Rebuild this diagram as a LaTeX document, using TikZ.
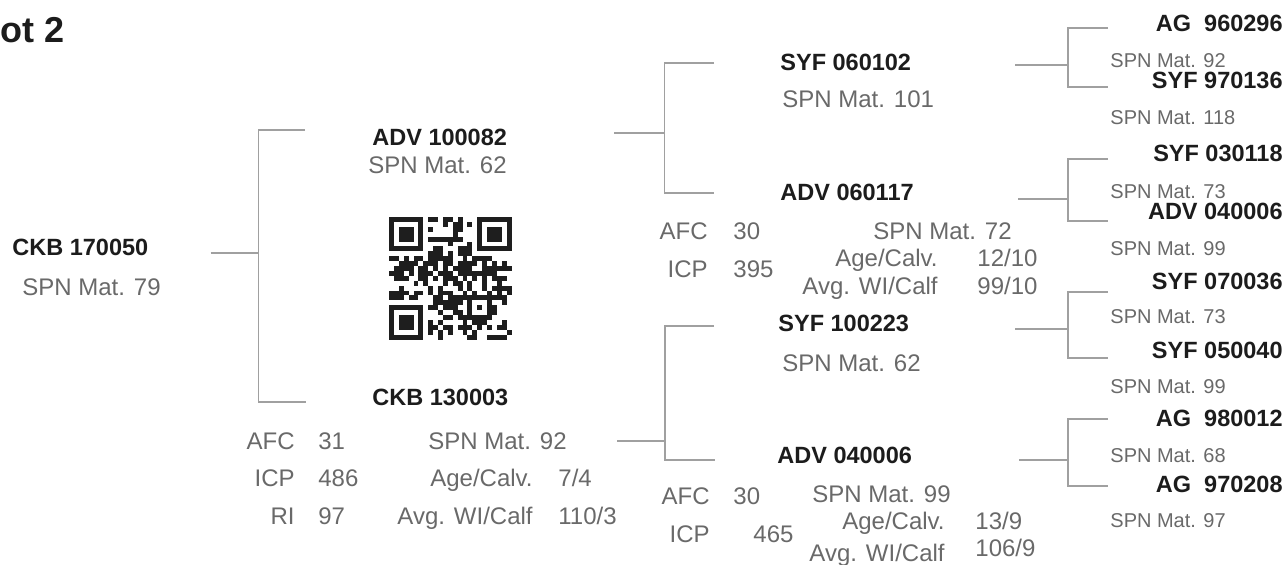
\documentclass[tikz,border=0pt]{standalone}
\usepackage{fontspec}
\setmainfont{Liberation Sans}
\usepackage{xcolor}
\usepackage{tikz}
\usetikzlibrary{calc}

\definecolor{inkdark}{RGB}{28,28,28}
\definecolor{inkgray}{RGB}{105,105,105}
\definecolor{linegray}{RGB}{160,160,160}
\definecolor{qrink}{RGB}{30,30,30}

\begin{document}
\begin{tikzpicture}[
  x=0.5pt, y=-0.5pt,
  tag/.style={font=\fontsize{11.75}{13}\selectfont\bfseries, text=inkdark,
              inner sep=0pt, anchor=base west},
  tagr/.style={tag, anchor=base east},
  spn/.style={font=\fontsize{12}{14}\selectfont, text=inkgray,
              inner sep=0pt, anchor=base west},
  spnr/.style={spn, font=\fontsize{10}{12}\selectfont},
  stt/.style={spn},
  sttr/.style={spn, anchor=base east},
  lnk/.style={draw=linegray, line width=0.8pt},
]
\useasboundingbox (0,0) rectangle (1288,564);

% ---- Title -----------------------------------------------------------------
\node[font=\fontsize{18}{20}\selectfont\bfseries, text=inkdark,
      inner sep=0pt, anchor=base east] (ttl) at (65,42) {ot 2};

% ---- Animal ----------------------------------------------------------------
\node[tag] (ckb1)  at (12,255) {CKB 170050};
\node[spn] (ckb1m) at (22,295) {SPN Mat. 79};

% ---- Sire ------------------------------------------------------------------
\node[tag] (adv1)  at (372,145) {ADV 100082};
\node[spn] (adv1m) at (368,173) {SPN Mat. 62};

% ---- Dam -------------------------------------------------------------------
\node[tag]  (ckb2)     at (372,405) {CKB 130003};
\node[sttr] (ckb2afc)  at (295,449) {AFC};
\node[stt]  (ckb2afcv) at (318,449) {31};
\node[sttr] (ckb2icp)  at (295,486) {ICP};
\node[stt]  (ckb2icpv) at (318,486) {486};
\node[sttr] (ckb2ri)   at (295,524) {RI};
\node[stt]  (ckb2riv)  at (318,524) {97};
\node[spn]  (ckb2m)    at (428,449) {SPN Mat. 92};
\node[sttr] (ckb2age)  at (533,486) {Age/Calv.};
\node[stt]  (ckb2agev) at (558,486) {7/4};
\node[sttr] (ckb2wt)   at (533,524) {Avg. WI/Calf};
\node[stt]  (ckb2wtv)  at (558,524) {110/3};

% ---- Grandparents ----------------------------------------------------------
\node[tag] (syf1)  at (780,70)  {SYF 060102};
\node[spn] (syf1m) at (782,107) {SPN Mat. 101};

\node[tag]  (adv2)     at (780,200) {ADV 060117};
\node[sttr] (adv2afc)  at (708,239) {AFC};
\node[stt]  (adv2afcv) at (733,239) {30};
\node[sttr] (adv2icp)  at (708,277) {ICP};
\node[stt]  (adv2icpv) at (733,277) {395};
\node[spn]  (adv2m)    at (873,239) {SPN Mat. 72};
\node[sttr] (adv2age)  at (938,266) {Age/Calv.};
\node[stt]  (adv2agev) at (977,266) {12/10};
\node[sttr] (adv2wt)   at (938,294) {Avg. WI/Calf};
\node[stt]  (adv2wtv)  at (977,294) {99/10};

\node[tag] (syf2)  at (778,331) {SYF 100223};
\node[spn] (syf2m) at (782,371) {SPN Mat. 62};

\node[tag]  (adv3)     at (777,463) {ADV 040006};
\node[sttr] (adv3afc)  at (710,504) {AFC};
\node[stt]  (adv3afcv) at (733,504) {30};
\node[sttr] (adv3icp)  at (710,542) {ICP};
\node[stt]  (adv3icpv) at (753,542) {465};
\node[spn]  (adv3m)    at (812,502) {SPN Mat. 99};
\node[sttr] (adv3age)  at (945,529) {Age/Calv.};
\node[stt]  (adv3agev) at (975,529) {13/9};
\node[sttr] (adv3wt)   at (945,561) {Avg. WI/Calf};
\node[stt]  (adv3wtv)  at (975,556) {106/9};

% ---- Great-grandparents ----------------------------------------------------
\node[tagr] (ag1)   at (1283,31)  {AG\ \ 960296};
\node[spnr] (ag1m)  at (1110,67)  {SPN Mat. 92};
\node[tagr] (syf3)  at (1283,88)  {SYF 970136};
\node[spnr] (syf3m) at (1110,124) {SPN Mat. 118};
\node[tagr] (syf4)  at (1283,161) {SYF 030118};
\node[spnr] (syf4m) at (1110,198) {SPN Mat. 73};
\node[tagr] (adv4)  at (1283,219) {ADV 040006};
\node[spnr] (adv4m) at (1110,255) {SPN Mat. 99};
\node[tagr] (syf5)  at (1283,289) {SYF 070036};
\node[spnr] (syf5m) at (1110,323) {SPN Mat. 73};
\node[tagr] (syf6)  at (1283,358) {SYF 050040};
\node[spnr] (syf6m) at (1110,393) {SPN Mat. 99};
\node[tagr] (ag2)   at (1283,426) {AG\ \ 980012};
\node[spnr] (ag2m)  at (1110,462) {SPN Mat. 68};
\node[tagr] (ag3)   at (1283,492) {AG\ \ 970208};
\node[spnr] (ag3m)  at (1110,527) {SPN Mat. 97};

% ---- Brackets --------------------------------------------------------------
\draw[lnk] ($(ckb1.base east)+(62,-2)$) -- ++(48,0) coordinate (spA);
\draw[lnk] ($(adv1.base west)+(-67,-15)$) -| (spA)
  |- ($(ckb2.base west)+(-66,-3)$);

\draw[lnk, line width=1.3pt] ($(adv1.base east)+(107,-12)$) -- ++(50,0)
  coordinate (spB);
\draw[lnk] ($(syf1.base west)+(-66,-7)$) -| (spB)
  |- ($(adv2.base west)+(-66,-7)$);

\draw[lnk] ($(ckb2m.base east)+(50,-8)$) -- ++(48,0) coordinate (spC);
\draw[lnk] ($(syf2.base west)+(-64,-5)$) -| (spC)
  |- ($(adv3.base west)+(-62,-3)$);

\draw[lnk] ($(syf1.base east)+(104,-5)$) -- ($(ag1m.west |- syf1.base)+(-42,-5)$)
  coordinate (spD);
\draw[lnk] ($(ag1m.west |- ag1.base)+(-2,-3)$) -| (spD)
  |- ($(ag1m.west |- syf3.base)+(-2,-1)$);

\draw[lnk] ($(adv2.base east)+(104,-1)$) -- ($(syf4m.west |- adv2.base)+(-42,-1)$)
  coordinate (spE);
\draw[lnk] ($(syf4m.west |- syf4.base)+(-2,-2)$) -| (spE)
  |- ($(syf4m.west |- adv4.base)+(-2,2)$);

\draw[lnk] ($(syf2.base east)+(106,-2)$) -- ($(syf5m.west |- syf2.base)+(-42,-2)$)
  coordinate (spF);
\draw[lnk] ($(syf5m.west |- syf5.base)+(-2,3)$) -| (spF)
  |- ($(syf5m.west |- syf6.base)+(-2,0)$);

\draw[lnk] ($(adv3.base east)+(107,-3)$) -- ($(ag2m.west |- adv3.base)+(-42,-3)$)
  coordinate (spG);
\draw[lnk] ($(ag2m.west |- ag2.base)+(-2,-7)$) -| (spG)
  |- ($(ag2m.west |- ag3.base)+(-2,-6)$);

% ---- QR code ---------------------------------------------------------------
\begin{scope}[shift={(389,217)}, x=2.45pt, y=-2.45pt]
  \pgfmathsetseed{2718}
  \foreach \i in {0,...,24}{
    \foreach \j in {0,...,24}{
      \pgfmathtruncatemacro\bit{rnd<0.5}
      \ifnum\bit=1 \fill[qrink] (\i,\j) rectangle ++(1,1); \fi
    }
  }
  \foreach \wx/\wy in {0/0,17/0,0/17}
    \fill[white] (\wx,\wy) rectangle ++(8,8);
  \foreach \fx/\fy in {0/0,18/0,0/18}{
    \fill[qrink] (\fx,\fy) rectangle ++(7,7);
    \fill[white] (\fx+1,\fy+1) rectangle ++(5,5);
    \fill[qrink] (\fx+2,\fy+2) rectangle ++(3,3);
  }
  \fill[qrink] (16,16) rectangle ++(5,5);
  \fill[white] (17,17) rectangle ++(3,3);
  \fill[qrink] (18,18) rectangle ++(1,1);
\end{scope}

\end{tikzpicture}
\end{document}
